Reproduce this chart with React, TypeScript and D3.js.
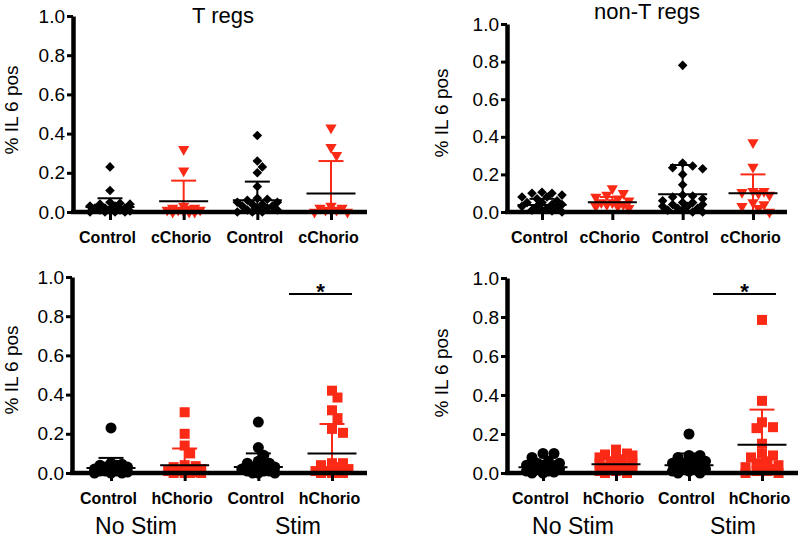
import { useRef, useEffect } from "react";
import * as d3 from "d3";

// category labels
const topLabels = ["Control", "cChorio", "Control", "cChorio"];
const bottomLabels = ["Control", "hChorio", "Control", "hChorio"];
const yTickValues = [0, 0.2, 0.4, 0.6, 0.8, 1.0];
const stimLabels = ["No Stim", "Stim"];

// T regs (top left) – % IL 6 pos per sample
const tregCtrlNoStim = [0.23, 0.11, 0.05, 0.045, 0.04, 0.04, 0.03, 0.03, 0.02, 0.02, 0.02, 0.01, 0.01, 0.01, 0.005, 0, 0, 0, 0];
const tregChorioNoStim = [0.32, 0.21, 0.03, 0.02, 0.02, 0.015, 0.01, 0.01, 0.01, 0.005, 0, 0, 0];
const tregCtrlStim = [0.39, 0.26, 0.23, 0.2, 0.13, 0.07, 0.065, 0.06, 0.05, 0.05, 0.04, 0.04, 0.03, 0.03, 0.02, 0.02, 0.01, 0.01, 0, 0, 0];
const tregChorioStim = [0.43, 0.33, 0.29, 0.03, 0.02, 0.02, 0.01, 0.01, 0, 0];
const tregMeans = [0.025, 0.055, 0.06, 0.095];
const tregSD = [0.045, 0.105, 0.095, 0.165];

// non-T regs (top right)
const nonTregCtrlNoStim = [0.105, 0.1, 0.1, 0.09, 0.08, 0.08, 0.07, 0.06, 0.05, 0.05, 0.04, 0.04, 0.03, 0.03, 0.02, 0.02, 0.01, 0.01, 0.005, 0];
const nonTregChorioNoStim = [0.125, 0.1, 0.09, 0.08, 0.07, 0.06, 0.05, 0.05, 0.04, 0.04, 0.03, 0.03, 0.02];
const nonTregCtrlStim = [0.78, 0.26, 0.245, 0.235, 0.23, 0.2, 0.145, 0.09, 0.085, 0.08, 0.07, 0.06, 0.05, 0.05, 0.04, 0.04, 0.03, 0.03, 0.02, 0.02, 0.01, 0.01, 0, 0];
const nonTregChorioStim = [0.37, 0.24, 0.11, 0.11, 0.105, 0.1, 0.09, 0.05, 0.04, 0.03, 0.02, 0];
const nonTregMeans = [0.037, 0.052, 0.095, 0.1];
const nonTregSD = [0.033, 0.028, 0.155, 0.1];

// T regs, hChorio (bottom left)
const tregHCtrlNoStim = [0.23, 0.05, 0.045, 0.04, 0.04, 0.03, 0.03, 0.02, 0.02, 0.02, 0.01, 0.01, 0.01, 0.005, 0, 0, 0];
const tregHChorioNoStim = [0.31, 0.2, 0.14, 0.1, 0.04, 0.035, 0.03, 0.02, 0.02, 0.01, 0.01, 0.01, 0.005, 0, 0, 0, 0];
const tregHCtrlStim = [0.26, 0.13, 0.09, 0.06, 0.05, 0.05, 0.04, 0.03, 0.03, 0.02, 0.02, 0.01, 0.01, 0.01, 0, 0, 0];
const tregHChorioStim = [0.42, 0.385, 0.32, 0.28, 0.225, 0.205, 0.05, 0.05, 0.04, 0.03, 0.02, 0.01, 0.01, 0, 0, 0, 0];
const tregHMeans = [0.025, 0.04, 0.03, 0.1];
const tregHSD = [0.052, 0.085, 0.07, 0.15];

// non-T regs, hChorio (bottom right)
const nonTregHCtrlNoStim = [0.1, 0.1, 0.08, 0.06, 0.05, 0.05, 0.04, 0.04, 0.03, 0.03, 0.03, 0.02, 0.02, 0.02, 0.01, 0.01, 0.005, 0, 0];
const nonTregHChorioNoStim = [0.12, 0.1, 0.095, 0.09, 0.09, 0.08, 0.07, 0.06, 0.05, 0.05, 0.04, 0.04, 0.03, 0.03, 0.02, 0.02, 0.01, 0.01, 0, 0];
const nonTregHCtrlStim = [0.2, 0.09, 0.09, 0.08, 0.07, 0.06, 0.05, 0.05, 0.04, 0.04, 0.03, 0.03, 0.02, 0.02, 0.01, 0.01, 0, 0];
const nonTregHChorioStim = [0.785, 0.37, 0.26, 0.235, 0.23, 0.15, 0.1, 0.09, 0.08, 0.06, 0.05, 0.04, 0.03, 0.03, 0.02, 0.01, 0.01, 0, 0];
const nonTregHMeans = [0.03, 0.045, 0.04, 0.145];
const nonTregHSD = [0.03, 0.025, 0.06, 0.18];

const RED = "#fb2a16";
const FONT = "Arial, 'Liberation Sans', sans-serif";

type Shape = "diamond" | "triangle" | "circle" | "square";

interface Panel {
  title?: string;
  titleX?: number;
  titleY?: number;
  labels: string[];
  groups: number[][];
  means: number[];
  sds: number[];
  shapes: [Shape, Shape];
  axisX0: number;
  axisX1: number;
  cats: [number, number];
  yRange: [number, number];
  yLabelX: number;
  yLabelY: number;
  sig?: [number, number, number];
  stimX?: [number, number];
}

const panels: Panel[] = [
  {
    title: "T regs", titleX: 223, titleY: 23,
    labels: topLabels,
    groups: [tregCtrlNoStim, tregChorioNoStim, tregCtrlStim, tregChorioStim],
    means: tregMeans, sds: tregSD, shapes: ["diamond", "triangle"],
    axisX0: 73, axisX1: 367, cats: [110, 331], yRange: [212, 16],
    yLabelX: 11, yLabelY: 110,
  },
  {
    title: "non-T regs", titleX: 647, titleY: 19,
    labels: topLabels,
    groups: [nonTregCtrlNoStim, nonTregChorioNoStim, nonTregCtrlStim, nonTregChorioStim],
    means: nonTregMeans, sds: nonTregSD, shapes: ["diamond", "triangle"],
    axisX0: 507, axisX1: 787, cats: [542, 753], yRange: [212, 24],
    yLabelX: 441, yLabelY: 113,
  },
  {
    labels: bottomLabels,
    groups: [tregHCtrlNoStim, tregHChorioNoStim, tregHCtrlStim, tregHChorioStim],
    means: tregHMeans, sds: tregHSD, shapes: ["circle", "square"],
    axisX0: 72, axisX1: 367, cats: [111, 332], yRange: [473, 277],
    yLabelX: 11, yLabelY: 370, sig: [289, 352, 294], stimX: [136, 298],
  },
  {
    labels: bottomLabels,
    groups: [nonTregHCtrlNoStim, nonTregHChorioNoStim, nonTregHCtrlStim, nonTregHChorioStim],
    means: nonTregHMeans, sds: nonTregHSD, shapes: ["circle", "square"],
    axisX0: 507, axisX1: 798, cats: [543, 762], yRange: [473, 278],
    yLabelX: 441, yLabelY: 373, sig: [713, 776, 294], stimX: [573, 733],
  },
];

// compact scatter: spread overlapping points sideways, but never wider than ±maxOff
function swarm(values: number[], y: (v: number) => number, cx: number, size: number) {
  const placed: { x: number; y: number }[] = [];
  const step = size * 0.5;
  const maxOff = 21;
  const thr = size * 0.72;
  [...values].sort((a, b) => b - a).forEach((v) => {
    const py = y(v);
    let best = { x: cx, d: -1 };
    for (let i = 0; i < 40; i++) {
      const off = i === 0 ? 0 : (i % 2 === 1 ? 1 : -1) * Math.ceil(i / 2) * step;
      if (Math.abs(off) > maxOff) break;
      const px = cx + off;
      const dmin = placed.length ? d3.min(placed, (p) => Math.hypot(p.x - px, p.y - py))! : Infinity;
      if (dmin >= thr) {
        best = { x: px, d: dmin };
        break;
      }
      if (dmin > best.d) best = { x: px, d: dmin };
    }
    placed.push({ x: best.x, y: py });
  });
  return placed;
}

function symbolPath(shape: Shape) {
  if (shape === "diamond") return { d: d3.symbol().type(d3.symbolSquare).size(46)()!, rot: 45, size: 10 };
  if (shape === "triangle") return { d: d3.symbol().type(d3.symbolTriangle).size(55)()!, rot: 180, size: 11 };
  if (shape === "circle") return { d: d3.symbol().type(d3.symbolCircle).size(95)()!, rot: 0, size: 11 };
  return { d: d3.symbol().type(d3.symbolSquare).size(100)()!, rot: 0, size: 11 };
}

const App = () => {
  const ref = useRef<SVGSVGElement>(null);

  useEffect(() => {
    if (!ref.current) return;
    const svg = d3.select(ref.current);
    svg.selectAll("*").remove();

    panels.forEach((p) => {
      const g = svg.append("g");
      const y = d3.scaleLinear().domain([0, 1]).range(p.yRange);
      const x = d3.scalePoint<number>().domain([0, 1, 2, 3]).range(p.cats);
      const y0 = y(0);

      // points
      p.groups.forEach((vals, i) => {
        const shape = p.shapes[i % 2];
        const color = i % 2 === 0 ? "#000" : RED;
        const sym = symbolPath(shape);
        const pts = swarm(vals, y, x(i)!, sym.size);
        g.selectAll(null)
          .data(pts)
          .enter()
          .append("path")
          .attr("d", sym.d)
          .attr("transform", (d) => `translate(${d.x},${d.y}) rotate(${sym.rot})`)
          .attr("fill", color);
      });

      // mean + SD
      p.groups.forEach((_v, i) => {
        const cx = x(i)!;
        const m = p.means[i];
        const s = p.sds[i];
        const sdColor = i % 2 === 0 ? "#000" : RED;
        g.append("line")
          .attr("x1", cx).attr("x2", cx)
          .attr("y1", y(Math.max(0, m - s))).attr("y2", y(m + s))
          .attr("stroke", sdColor).attr("stroke-width", 2);
        g.append("line")
          .attr("x1", cx - 12.5).attr("x2", cx + 12.5)
          .attr("y1", y(m + s)).attr("y2", y(m + s))
          .attr("stroke", sdColor).attr("stroke-width", 2);
        g.append("line")
          .attr("x1", cx - 24.5).attr("x2", cx + 24.5)
          .attr("y1", y(m)).attr("y2", y(m))
          .attr("stroke", "#000").attr("stroke-width", 2);
      });

      // y axis
      const yAxis = d3.axisLeft(y).tickValues(yTickValues).tickFormat(d3.format(".1f")).tickSize(6).tickSizeOuter(0).tickPadding(2);
      g.append("g")
        .attr("transform", `translate(${p.axisX0},0)`)
        .call(yAxis)
        .call((a: any) => a.select(".domain").attr("stroke-width", 4.5).attr("stroke", "#000"))
        .call((a: any) => a.selectAll(".tick line").attr("stroke-width", 3).attr("stroke", "#000"))
        .call((a: any) =>
          a.selectAll("text").attr("fill", "#000").style("font-size", "19px").style("font-family", FONT)
        );

      // x axis
      g.append("line")
        .attr("x1", p.axisX0 - 2).attr("x2", p.axisX1)
        .attr("y1", y0).attr("y2", y0)
        .attr("stroke", "#000").attr("stroke-width", 4.5);
      const xAxis = d3.axisBottom(x).tickSize(8).tickSizeOuter(0).tickPadding(12).tickFormat((d) => p.labels[d as number]);
      g.append("g")
        .attr("transform", `translate(0,${y0})`)
        .call(xAxis)
        .call((a: any) => a.select(".domain").remove())
        .call((a: any) => a.selectAll(".tick line").attr("stroke-width", 3).attr("stroke", "#000"))
        .call((a: any) =>
          a.selectAll("text")
            .attr("fill", "#000")
            .attr("dx", -3)
            .style("font-size", "16px")
            .style("font-weight", "bold")
            .style("font-family", FONT)
        );

      // y label
      g.append("text")
        .attr("transform", `translate(${p.yLabelX},${p.yLabelY}) rotate(-90)`)
        .attr("text-anchor", "middle")
        .attr("dy", "0.35em")
        .style("font-size", "19px")
        .style("font-family", FONT)
        .text("% IL 6 pos");

      if (p.title) {
        g.append("text")
          .attr("x", p.titleX!).attr("y", p.titleY!)
          .attr("text-anchor", "middle")
          .style("font-size", "22px")
          .style("font-family", FONT)
          .text(p.title);
      }

      if (p.sig) {
        const [sx0, sx1, sy] = p.sig;
        g.append("line")
          .attr("x1", sx0).attr("x2", sx1).attr("y1", sy).attr("y2", sy)
          .attr("stroke", "#000").attr("stroke-width", 2);
        g.append("text")
          .attr("x", (sx0 + sx1) / 2).attr("y", sy + 5)
          .attr("text-anchor", "middle")
          .style("font-size", "22px")
          .style("font-weight", "bold")
          .style("font-family", FONT)
          .text("*");
      }

      if (p.stimX) {
        p.stimX.forEach((sx, i) => {
          g.append("text")
            .attr("x", sx).attr("y", 534)
            .attr("text-anchor", "middle")
            .style("font-size", "23px")
            .style("font-family", FONT)
            .text(stimLabels[i]);
        });
      }
    });

    return () => {
      svg.selectAll("*").remove();
    };
  }, []);

  return (
    <svg
      ref={ref}
      width={800}
      height={539}
      style={{ position: "absolute", left: 0, top: 0, background: "#fff" }}
    />
  );
};

export default App;
